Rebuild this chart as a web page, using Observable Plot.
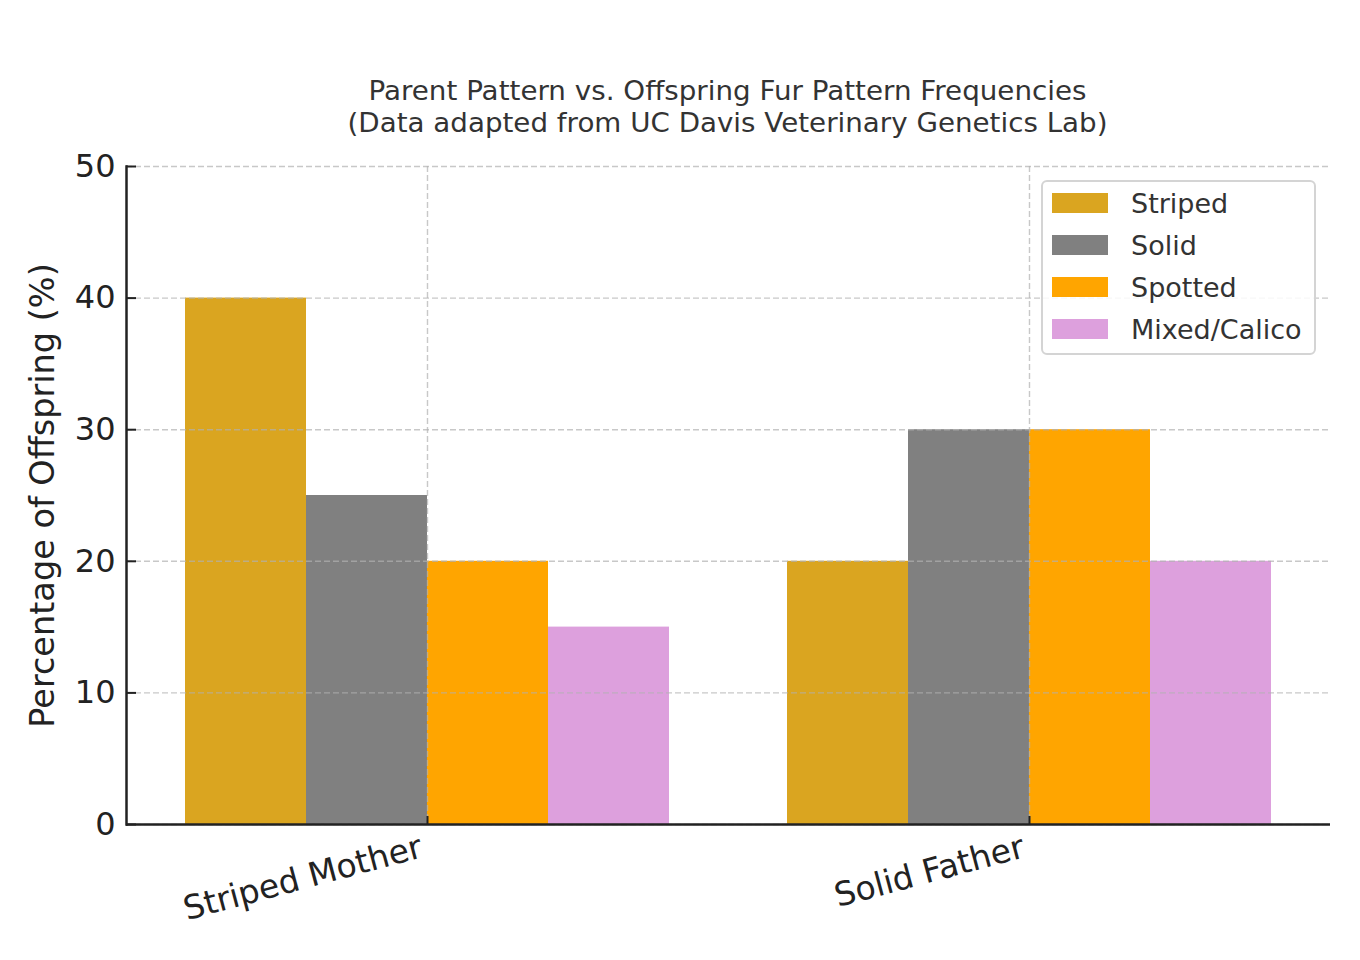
<!DOCTYPE html>
<html>
<head>
<meta charset="utf-8">
<script src="https://cdn.jsdelivr.net/npm/d3@7"></script>
<script src="https://cdn.jsdelivr.net/npm/@observablehq/plot@0.6"></script>
<style>
  body { margin: 0; background: #fff; font-family: "DejaVu Sans", sans-serif; }
  #wrap { position: relative; width: 1360px; height: 960px; background: #fff; }
  #title { display: block; }
  #title text { font-family: "DejaVu Sans", sans-serif; font-size: 27px; fill: #333; }
  #chart svg { display: block; }
  #legend {
    position: absolute; left: 1041px; top: 180px; width: 271px; height: 171px;
    border: 2px solid #d4d4d4; border-radius: 6px; background: rgba(255,255,255,0.85);
    box-sizing: content-box;
  }
  .lg-row { height: 42px; display: flex; align-items: center; }
  .lg-sw { width: 56px; height: 20px; margin-left: 9px; margin-right: 23px; }
  .lg-tx { font-family: "DejaVu Sans", sans-serif; font-size: 27px; color: #333; white-space: nowrap; }
</style>
</head>
<body>
<div id="wrap">
  <svg id="title" width="1360" height="150"></svg>
  <div id="chart"></div>
  <div id="legend"></div>
</div>
<script>
// Parent groups along the x axis
const parents = ["Striped Mother", "Solid Father"];
// Offspring fur patterns (one bar per pattern in each group)
const patterns = ["Striped", "Solid", "Spotted", "Mixed/Calico"];
const patternColors = ["#DAA520", "#808080", "#FFA500", "#DDA0DD"];
// Percentage of offspring per pattern, by parent
const stripedMotherPct = [40, 25, 20, 15];
const solidFatherPct = [20, 30, 30, 20];
// Axis ticks and texts
const yTicks = [0, 10, 20, 30, 40, 50];
const yLabel = "Percentage of Offspring (%)";
const titleLines = [
  "Parent Pattern vs. Offspring Fur Pattern Frequencies",
  "(Data adapted from UC Davis Veterinary Genetics Lab)"
];

const valuesByParent = [stripedMotherPct, solidFatherPct];
const rows = parents.flatMap((parent, i) =>
  patterns.map((pattern, j) => ({parent, pattern, value: valuesByParent[i][j]}))
);

// Two-line title
const titleSvg = d3.select("#title");
const titleBaselines = [100, 132];
const titleWidths = [718, 760];
titleLines.forEach((line, i) => {
  titleSvg.append("text")
    .attr("x", 727.5)
    .attr("y", titleBaselines[i])
    .attr("text-anchor", "middle")
    .attr("textLength", titleWidths[i])
    .attr("lengthAdjust", "spacingAndGlyphs")
    .text(line);
});

// Dashed, semi-transparent grid drawn over the bars
const gridStyle = {stroke: "#b0b0b0", strokeOpacity: 0.7, strokeWidth: 1.4, strokeDasharray: "6,3"};

// Facets sit side by side (no gap) so the grid and the baseline run unbroken;
// the gap between the two bar groups comes from the outer x padding.
const chart = Plot.plot({
  width: 1360,
  height: 810,
  marginTop: 16,
  marginBottom: 136,
  marginLeft: 125,
  marginRight: 30,
  style: {fontFamily: "DejaVu Sans, sans-serif", color: "#222", background: "white", overflow: "visible"},
  fx: {domain: parents, padding: 0},
  x: {domain: patterns, paddingInner: 0, paddingOuter: 0.48, axis: null},
  y: {domain: [0, 50]},
  color: {domain: patterns, range: patternColors},
  marks: [
    Plot.barY(rows, {fx: "parent", x: "pattern", y: "value", fill: "pattern"}),
    Plot.gridY(yTicks, gridStyle),
    Plot.gridFx(gridStyle),
    Plot.ruleY([0], {stroke: "#222", strokeWidth: 2.5}),
    Plot.frame({anchor: "left", facetAnchor: "left", stroke: "#222", strokeWidth: 2.5}),
    // y tick marks (pointing inward) and tick labels
    Plot.axisY(yTicks, {tickSize: -10, tickPadding: 21, strokeWidth: 2, fontSize: 32, label: null}),
    // y axis title
    Plot.axisY(yTicks, {
      tickSize: 0, tickFormat: () => "", fontSize: 33.5,
      label: yLabel, labelAnchor: "center", labelArrow: "none", labelOffset: 96
    }),
    // inward tick marks at the group centres
    Plot.axisFx({anchor: "bottom", tickSize: -8, strokeWidth: 2, tickFormat: () => "", label: null}),
    // rotated group labels
    Plot.axisFx({
      anchor: "bottom", tickSize: 0, tickPadding: 22, dx: -6,
      tickRotate: -15, fontSize: 33, label: null
    })
  ]
});
document.getElementById("chart").appendChild(chart);

// Legend
const legend = d3.select("#legend");
patterns.forEach((p, i) => {
  const row = legend.append("div").attr("class", "lg-row");
  row.append("div").attr("class", "lg-sw").style("background", patternColors[i]);
  row.append("div").attr("class", "lg-tx").text(p);
});
</script>
</body>
</html>
